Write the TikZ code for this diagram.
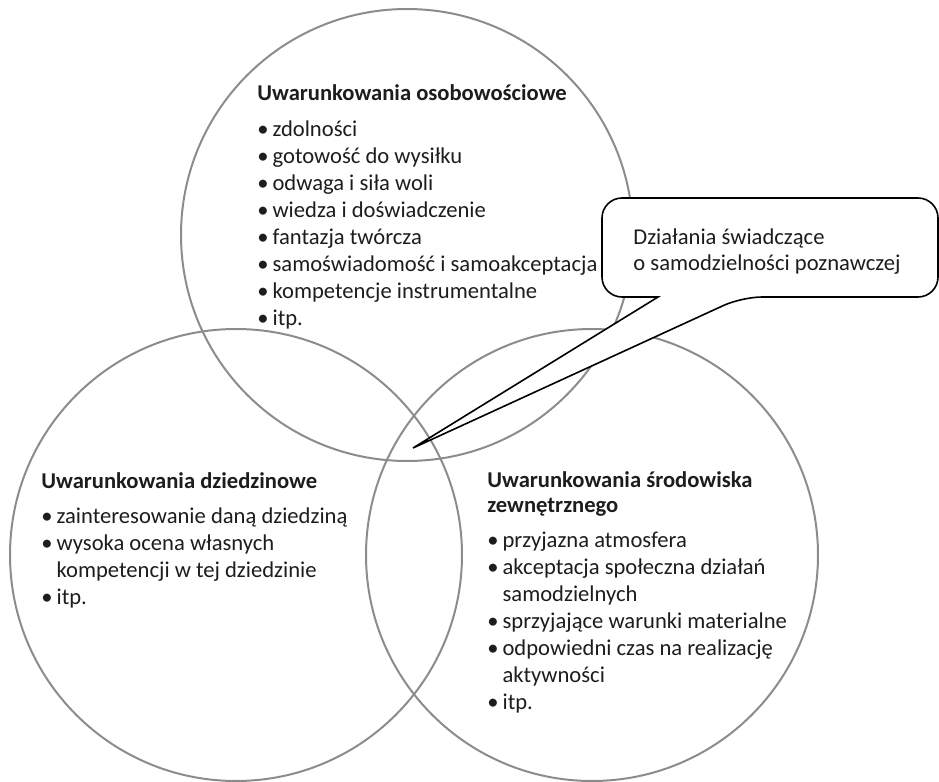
\documentclass[tikz,border=0pt]{standalone}
\usepackage{fontspec}
\setmainfont{Carlito}
\definecolor{ringgray}{RGB}{140,140,140}
\definecolor{inkdark}{RGB}{30,28,28}
\newcommand{\kropka}{\makebox[7.6pt][l]{\textbullet}}
\newcommand{\wciecie}{\hspace*{7.6pt}}
\tikzset{
  ring/.style={circle, draw=ringgray, line width=1pt, minimum size=226pt, inner sep=0pt, outer sep=0pt},
  txt/.style={anchor=base west, inner sep=0pt, text=inkdark, font=\fontsize{11.3}{13.5}\selectfont},
  bubble/.style={draw=black, fill=white, line width=0.8pt}
}
\begin{document}
\begin{tikzpicture}[x=0.5pt,y=-0.5pt]
        \useasboundingbox (0,0) rectangle (939,782);
        % three overlapping circles
        \node[ring] (pers) at (407,235) {};
        \node[ring] (dom) at (236,555) {};
        \node[ring] (env) at (592,555) {};
        % texts inside the circles
        \node[txt] (perstext) at (257,100) {\begin{tabular}[t]{@{}l@{}}\textbf{Uwarunkowania osobowościowe}\\[4.5pt]
            \kropka zdolności\\ \kropka gotowość do wysiłku\\ \kropka odwaga i siła woli\\ \kropka wiedza i doświadczenie\\
            \kropka fantazja twórcza\\ \kropka samoświadomość i samoakceptacja\\ \kropka kompetencje instrumentalne\\ \kropka itp.\end{tabular}};
        \node[txt] (domtext) at (41,488) {\begin{tabular}[t]{@{}l@{}}\textbf{Uwarunkowania dziedzinowe}\\[4pt]
            \kropka zainteresowanie daną dziedziną\\ \kropka wysoka ocena własnych\\ \wciecie kompetencji w tej dziedzinie\\ \kropka itp.\end{tabular}};
        \node[txt] (envtext) at (487,487) {\begin{tabular}[t]{@{}l@{}}\textbf{Uwarunkowania środowiska}\\[-1pt] \textbf{zewnętrznego}\\[4pt]
            \kropka przyjazna atmosfera\\ \kropka akceptacja społeczna działań\\ \wciecie samodzielnych\\ \kropka sprzyjające warunki materialne\\
            \kropka odpowiedni czas na realizację\\ \wciecie aktywności\\ \kropka itp.\end{tabular}};
        % speech bubble
        \coordinate (tip) at (413,448);
        \node[inner sep=0pt, outer sep=0pt, minimum width=168pt, minimum height=49.5pt] (note) at (770,247.5) {};
        \draw[bubble] ([xshift=28pt]note.south west) [rounded corners=10pt] -- (note.south west) -- (note.north west) -- (note.north east) -- (note.south east) -- ([xshift=70pt]note.south west) [sharp corners] -- (tip) -- cycle;
        \node[txt] (notetext) at (633,244) {\begin{tabular}[t]{@{}l@{}}Działania świadczące\\[-0.5pt] o samodzielności poznawczej\end{tabular}};
     \end{tikzpicture}
\end{document}
